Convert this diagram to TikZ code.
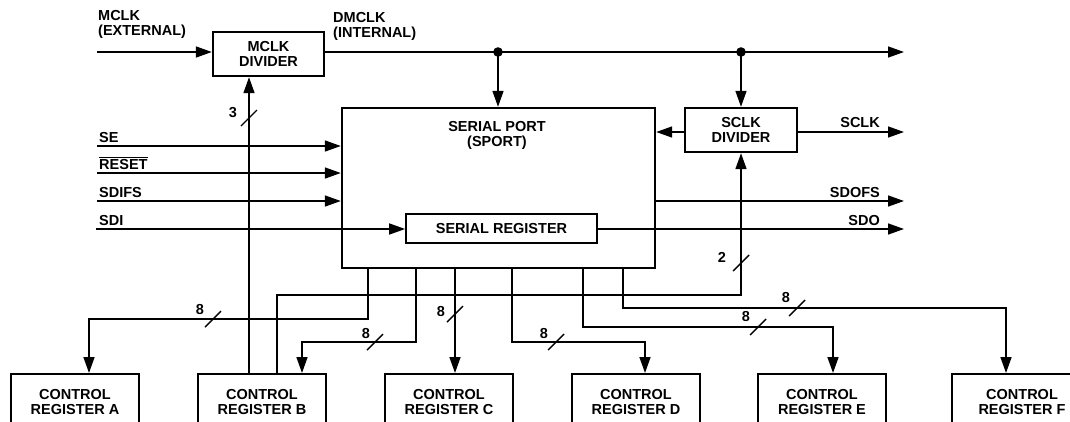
\documentclass[tikz,border=0pt]{standalone}
\usepackage{fontspec}
\setmainfont{Liberation Sans}
\usetikzlibrary{arrows.meta}

\begin{document}
\begin{tikzpicture}[
        x=1pt, y=-1pt,
        font={\bfseries\fontsize{14.5}{15}\selectfont},
        block/.style={draw, line width=2.4pt, inner sep=0pt, align=center},
        reg box/.style={block, minimum height=56pt, anchor=north},
        sig/.style={line width=1.6pt, -{Triangle[length=16pt, width=11pt]}},
        sig label/.style={inner sep=0pt, anchor=south west},
        out label/.style={inner sep=0pt, anchor=south east},
        bus slash/.pic={\draw[line width=1.4pt] (-8,8) -- (8,-8);},
    ]

    % Khung hình và vùng cắt
    \useasboundingbox (0,0) rectangle (1070,421);
    \clip (0,0) rectangle (1070,421);

    % Các khối chính
    \node[block, minimum width=111pt, minimum height=44pt] (mclkdiv) at (268.5,54) {MCLK\\DIVIDER};
    \node[block, minimum width=313pt, minimum height=160pt] (sport) at (498.5,188) {};
    \node[inner sep=0pt, align=center] (sporttitle) at (497,135.5) {SERIAL PORT\\(SPORT)};
    \node[block, minimum width=112pt, minimum height=44pt] (sclkdiv) at (741,130) {SCLK\\DIVIDER};
    \node[block, line width=1.7pt, minimum width=191pt, minimum height=29pt] (sreg) at (501.5,228.5) {SERIAL REGISTER};

    % Các thanh ghi điều khiển
    \foreach \name/\cx/\w in {A/75/128, B/262/128, C/449/128, D/636/128, E/822/128, F/1022/140} {
        \node[reg box, minimum width=\w pt] (ctrl\name) at (\cx,373) {CONTROL\\REGISTER \name};
    }

    % Đường xung nhịp MCLK / DMCLK
    \coordinate (mclkin) at (97,52);
    \coordinate (dmclkout) at (904,52);
    \coordinate (tapsport) at (498,52);
    \coordinate (tapsclk) at (741,52);
    \draw[sig] (mclkin) -- (mclkin -| mclkdiv.west);
    \draw[sig] (mclkdiv.east |- mclkin) -- (dmclkout);
    \draw[sig] (tapsport) -- (tapsport |- sport.north);
    \draw[sig] (tapsclk) -- (sclkdiv.north);
    \fill (tapsport) circle (4.8pt);
    \fill (tapsclk) circle (4.8pt);
    \node[sig label, align=left] (lbl-mclk) at (98,39) {MCLK\\(EXTERNAL)};
    \node[sig label, align=left] (lbl-dmclk) at (333,41) {DMCLK\\(INTERNAL)};

    % SCLK
    \coordinate (sclkout) at (904,132);
    \draw[sig] (sclkdiv.east |- sclkout) -- (sclkout);
    \draw[sig] (sclkdiv.west |- sclkout) -- (sport.east |- sclkout);
    \node[out label] (lbl-sclk) at (880,128) {SCLK};

    % Tín hiệu vào bên trái
    \foreach \y/\txt [count=\i] in {146/SE, 173/{$\overline{\hbox{RESET}}$}, 201/SDIFS} {
        \coordinate (in\i) at (97,\y);
        \draw[sig] (in\i) -- (in\i -| sport.west);
        \node[sig label] (lbl-in\i) at (99,{\y-3.5}) {\txt};
    }
    \coordinate (sdiin) at (96,229);
    \draw[sig] (sdiin) -- (sdiin -| sreg.west);
    \node[sig label] (lbl-sdi) at (99,225.5) {SDI};

    % Tín hiệu ra bên phải
    \coordinate (sdofsout) at (904,201);
    \coordinate (sdoout) at (904,229);
    \draw[sig] (sport.east |- sdofsout) -- (sdofsout);
    \draw[sig] (sreg.east |- sdoout) -- (sdoout);
    \node[out label] (lbl-sdofs) at (880,197.5) {SDOFS};
    \node[out label] (lbl-sdo) at (880,225.5) {SDO};

    % Bus 8 bit tới các thanh ghi
    \foreach \d/\sx/\ty/\dx in {A/368/319/89, B/416/342/302, C/455/342/455, D/512/342/645, E/583/327/833, F/623/308/1006} {
        \coordinate (drop\d) at (\sx,\ty);
        \coordinate (bend\d) at (\dx,\ty);
        \draw[sig] (drop\d |- sport.south) -- (drop\d) -- (bend\d) -- (bend\d |- ctrl\d.north);
    }

    % Đường từ thanh ghi B lên hai bộ chia
    \coordinate (mdivctl) at (249,300);
    \coordinate (sdivctl) at (277,295);
    \draw[sig] (mdivctl |- ctrlB.north) -- (mdivctl |- mclkdiv.south);
    \draw[sig] (sdivctl |- ctrlB.north) -- (sdivctl) -| (sclkdiv.south);

    % Dấu gạch chéo độ rộng bus
    \foreach \sx/\sy/\num/\lx/\ly [count=\i] in {249/118/3/233/113, 741/263/2/722/257,
            213/319/8/200/310, 375/342/8/366/334, 455/314/8/441/312,
            556/342/8/544/334, 758/327/8/746/317, 797/308/8/786/298} {
        \pic at (\sx,\sy) {bus slash};
        \node[inner sep=0pt] (lbl-bus\i) at (\lx,\ly) {\num};
    }

\end{tikzpicture}
\end{document}
